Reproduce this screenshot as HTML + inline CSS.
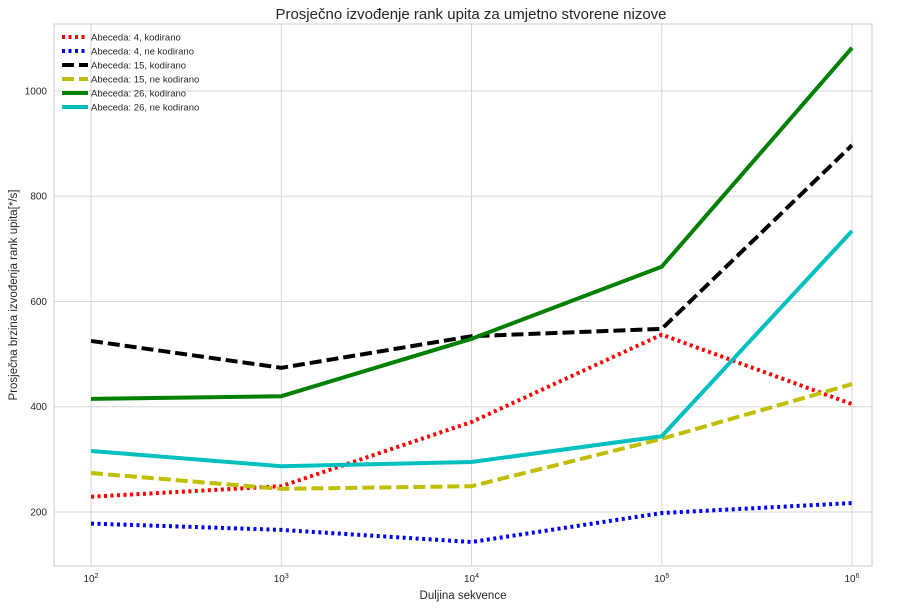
<!DOCTYPE html>
<html><head><meta charset="utf-8"><style>
body{margin:0;background:#fff;font-family:"Liberation Sans","DejaVu Sans",sans-serif}
svg text{font-family:"Liberation Sans","DejaVu Sans",sans-serif}
</style></head><body>
<svg id="c" width="897" height="608" xmlns="http://www.w3.org/2000/svg"></svg>
<script>
const xExp=[2,3,4,5,6];
const yTicks=[200,400,600,800,1000];
const sRed=[229,249,371,537,405];
const sBlue=[178,166,143,198,217];
const sBlack=[525,474,534,548,897];
const sYellow=[274,244,249,339,443];
const sGreen=[415,420,529,666,1082];
const sCyan=[316,287,295,344,734];
const labels=["Abeceda: 4, kodirano","Abeceda: 4, ne kodirano","Abeceda: 15, kodirano","Abeceda: 15, ne kodirano","Abeceda: 26, kodirano","Abeceda: 26, ne kodirano"];
const NS="http://www.w3.org/2000/svg";
const svg=document.getElementById('c');
const L=54,R=872,T=24,B=566;
const xs=e=>91+(e-2)*190.25;
const ys=v=>512-(v-200)*0.5263;
function mk(t,a,p){const el=document.createElementNS(NS,t);for(const k in a)el.setAttribute(k,a[k]);(p||svg).appendChild(el);return el;}
const t=mk('text',{x:471,y:19,'font-size':15,'text-anchor':'middle',fill:'#262626'});t.textContent='Prosječno izvođenje rank upita za umjetno stvorene nizove';


const plot=mk('rect',{x:L,y:T,width:R-L,height:B-T,fill:'#fff',stroke:'#cccccc'});


xExp.forEach(e=>{const x=xs(e);
 const g=mk('line',{x1:x,x2:x,y1:T,y2:B,stroke:'#d6d6d6'});
 
 
 const tx=mk('text',{x:x,y:582,'font-size':10,'text-anchor':'middle',fill:'#262626'});
 
 
 tx.textContent='10';const sp=mk('tspan',{dy:-4,'font-size':7},tx);sp.textContent=e;});
yTicks.forEach(v=>{const y=ys(v);
 const g=mk('line',{x1:L,x2:R,y1:y,y2:y,stroke:'#d6d6d6'});
 
 
 const tx=mk('text',{x:47,y:y+3.5,'font-size':10,'text-anchor':'end',fill:'#262626'});
 
 
 tx.textContent=v;});
const xl=mk('text',{x:463,y:599,'font-size':11.5,'text-anchor':'middle',fill:'#262626'});xl.textContent='Duljina sekvence';


const yl=mk('text',{x:0,y:0,'font-size':11.5,'text-anchor':'middle',fill:'#262626',transform:'translate(17,295) rotate(-90)'});yl.textContent='Prosječna brzina izvođenja rank upita[*/s]';


const series=[[sRed,'#ff0000','3,3.5'],[sBlue,'#0000ff','3,3.5'],[sBlack,'#000000','12,5'],[sYellow,'#bfbf00','12,5'],[sGreen,'#008000',''],[sCyan,'#00bfbf','']];
series.forEach((s,i)=>{
 const p=mk('polyline',{points:s[0].map((v,j)=>xs(xExp[j])+','+ys(v)).join(' '),fill:'none',stroke:s[1],'stroke-width':4,'stroke-dasharray':s[2]});
 
 
 const y=37+i*14;
 const ll=mk('line',{x1:62,x2:88,y1:y,y2:y,stroke:s[1],'stroke-width':4,'stroke-dasharray':s[2]});
 
 
 const lt=mk('text',{x:91,y:y+3.5,'font-size':9.5,fill:'#262626'});lt.textContent=labels[i];
 
 
});
</script>
</body></html>
